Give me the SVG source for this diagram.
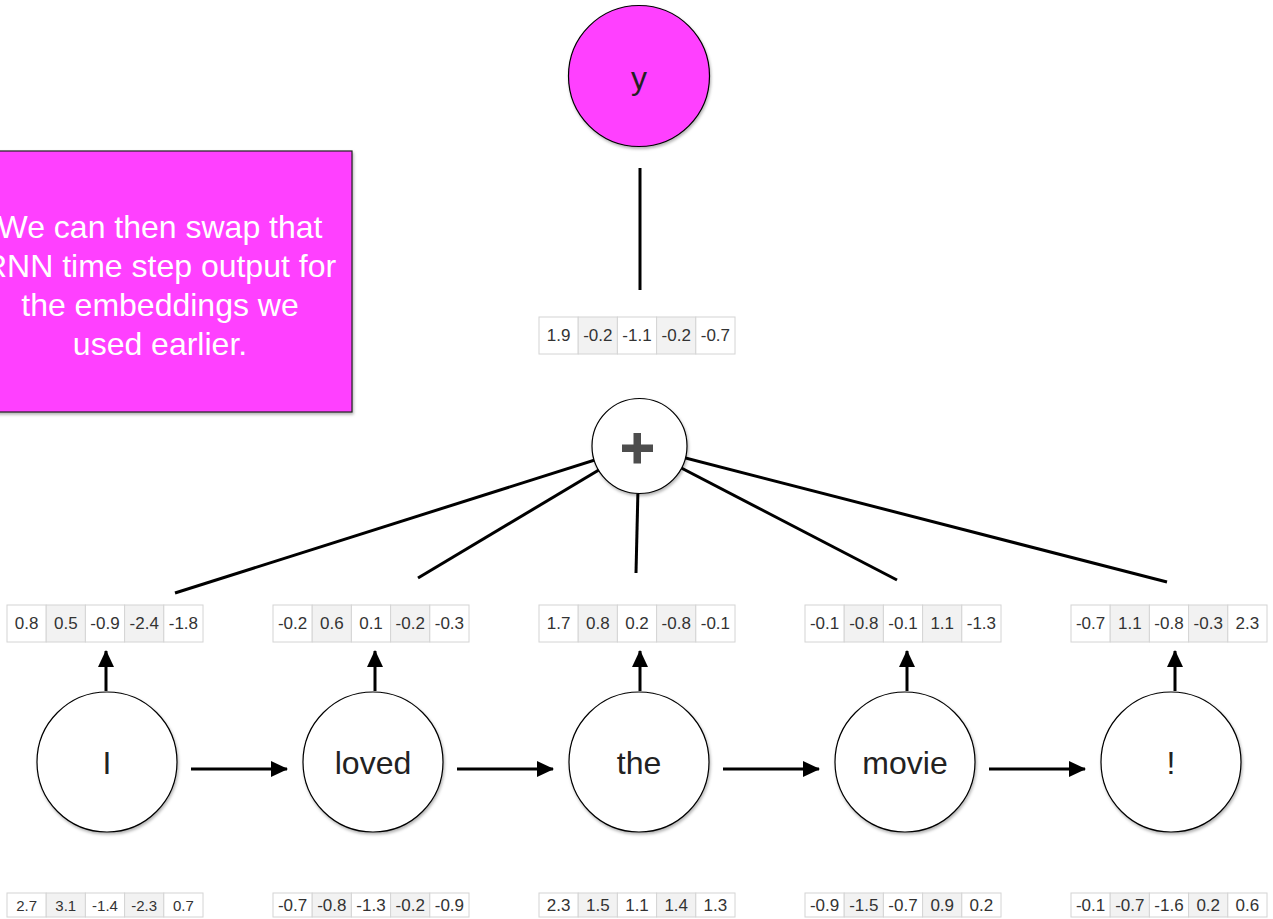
<svg xmlns="http://www.w3.org/2000/svg" width="1273" height="919" viewBox="0 0 1273 919">
<style>
.ln{stroke:#000;stroke-width:3;fill:none}
.ar{stroke:#000;stroke-width:3;fill:none;marker-end:url(#ah)}
.node{fill:#fff;stroke:#000;stroke-width:1.2;filter:url(#sh)}
.lbl{font-family:"Liberation Sans",Arial,sans-serif;font-size:32px;fill:#222;text-anchor:middle;dominant-baseline:central}
.c{fill:#fff;stroke:#d4d4d4;stroke-width:1}
.c2{fill:#f2f2f2;stroke:#d4d4d4;stroke-width:1}
.t{font-family:"Liberation Sans",Arial,sans-serif;font-size:17px;fill:#333;text-anchor:middle;dominant-baseline:central}
.ts{font-family:"Liberation Sans",Arial,sans-serif;font-size:15px;fill:#333;text-anchor:middle;dominant-baseline:central}
.note{font-family:"Liberation Sans",Arial,sans-serif;font-size:32px;fill:#fff;text-anchor:middle}
</style>
<defs>
<filter id="sh" x="-20%" y="-20%" width="140%" height="140%">
<feDropShadow dx="1" dy="2" stdDeviation="1.5" flood-color="#000" flood-opacity="0.3"/>
</filter>
<marker id="ah" markerUnits="userSpaceOnUse" markerWidth="18" markerHeight="18" viewBox="0 0 18 18" refX="16" refY="9" orient="auto">
<path d="M0,1 L17,9 L0,17 Z" fill="#000"/>
</marker>
<g id="row5">
<rect class="c" x="0" y="0" width="39.2" height="37"/>
<rect class="c2" x="39.2" y="0" width="39.2" height="37"/>
<rect class="c" x="78.4" y="0" width="39.2" height="37"/>
<rect class="c2" x="117.6" y="0" width="39.2" height="37"/>
<rect class="c" x="156.8" y="0" width="39.2" height="37"/>
</g>
<g id="row5s">
<rect class="c" x="0" y="0" width="39.2" height="24"/>
<rect class="c2" x="39.2" y="0" width="39.2" height="24"/>
<rect class="c" x="78.4" y="0" width="39.2" height="24"/>
<rect class="c2" x="117.6" y="0" width="39.2" height="24"/>
<rect class="c" x="156.8" y="0" width="39.2" height="24"/>
</g>
</defs>
<rect width="1273" height="919" fill="#fff"/>

<g id="note">
<rect x="-32" y="151" width="384" height="261" fill="#ff40ff" stroke="#222" stroke-width="1.2" filter="url(#sh)"/>
<text class="note" x="160" y="238">We can then swap that</text>
<text class="note" x="160" y="277">RNN time step output for</text>
<text class="note" x="160" y="316">the embeddings we</text>
<text class="note" x="160" y="355">used earlier.</text>
</g>

<g id="connectors">
<line class="ln" x1="640" y1="168" x2="640" y2="290"/>
<line class="ln" x1="639" y1="446" x2="175" y2="593"/>
<line class="ln" x1="639" y1="446" x2="418" y2="578"/>
<line class="ln" x1="639" y1="446" x2="636" y2="573"/>
<line class="ln" x1="639" y1="446" x2="897" y2="580"/>
<line class="ln" x1="639" y1="446" x2="1167" y2="582"/>
<line class="ar" x1="106" y1="691" x2="106" y2="651"/>
<line class="ar" x1="375" y1="691" x2="375" y2="651"/>
<line class="ar" x1="640" y1="691" x2="640" y2="651"/>
<line class="ar" x1="907" y1="691" x2="907" y2="651"/>
<line class="ar" x1="1175" y1="691" x2="1175" y2="651"/>
<line class="ar" x1="191" y1="769" x2="287" y2="769"/>
<line class="ar" x1="457" y1="769" x2="553" y2="769"/>
<line class="ar" x1="723" y1="769" x2="819" y2="769"/>
<line class="ar" x1="989" y1="769" x2="1085" y2="769"/>
</g>

<g id="y">
<circle cx="639" cy="76" r="70.5" fill="#ff40ff" stroke="#000" stroke-width="1.2" filter="url(#sh)"/>
<text class="lbl" x="639" y="78">y</text>
</g>

<g id="plus">
<circle class="node" cx="639.5" cy="446" r="47.5"/>
<rect x="622" y="444.5" width="31" height="7.5" fill="#4d4d4d"/>
<rect x="633.5" y="433" width="7.5" height="30.5" fill="#4d4d4d"/>
</g>

<g id="vec_out">
<use href="#row5" x="539" y="317"/>
<text class="t" x="558.6" y="335.5">1.9</text>
<text class="t" x="597.8" y="335.5">-0.2</text>
<text class="t" x="637" y="335.5">-1.1</text>
<text class="t" x="676.2" y="335.5">-0.2</text>
<text class="t" x="715.4" y="335.5">-0.7</text>
</g>

<g id="h1">
<use href="#row5" x="7" y="605"/>
<text class="t" x="26.6" y="623.5">0.8</text>
<text class="t" x="65.8" y="623.5">0.5</text>
<text class="t" x="105" y="623.5">-0.9</text>
<text class="t" x="144.2" y="623.5">-2.4</text>
<text class="t" x="183.4" y="623.5">-1.8</text>
</g>
<g id="h2">
<use href="#row5" x="273" y="605"/>
<text class="t" x="292.6" y="623.5">-0.2</text>
<text class="t" x="331.8" y="623.5">0.6</text>
<text class="t" x="371" y="623.5">0.1</text>
<text class="t" x="410.2" y="623.5">-0.2</text>
<text class="t" x="449.4" y="623.5">-0.3</text>
</g>
<g id="h3">
<use href="#row5" x="539" y="605"/>
<text class="t" x="558.6" y="623.5">1.7</text>
<text class="t" x="597.8" y="623.5">0.8</text>
<text class="t" x="637" y="623.5">0.2</text>
<text class="t" x="676.2" y="623.5">-0.8</text>
<text class="t" x="715.4" y="623.5">-0.1</text>
</g>
<g id="h4">
<use href="#row5" x="805" y="605"/>
<text class="t" x="824.6" y="623.5">-0.1</text>
<text class="t" x="863.8" y="623.5">-0.8</text>
<text class="t" x="903" y="623.5">-0.1</text>
<text class="t" x="942.2" y="623.5">1.1</text>
<text class="t" x="981.4" y="623.5">-1.3</text>
</g>
<g id="h5">
<use href="#row5" x="1071" y="605"/>
<text class="t" x="1090.6" y="623.5">-0.7</text>
<text class="t" x="1129.8" y="623.5">1.1</text>
<text class="t" x="1169" y="623.5">-0.8</text>
<text class="t" x="1208.2" y="623.5">-0.3</text>
<text class="t" x="1247.4" y="623.5">2.3</text>
</g>

<g id="n_I">
<circle class="node" cx="107" cy="762" r="70"/>
<text class="lbl" x="107" y="763">I</text>
</g>
<g id="n_loved">
<circle class="node" cx="373" cy="762" r="70"/>
<text class="lbl" x="373" y="763">loved</text>
</g>
<g id="n_the">
<circle class="node" cx="639" cy="762" r="70"/>
<text class="lbl" x="639" y="763">the</text>
</g>
<g id="n_movie">
<circle class="node" cx="905" cy="762" r="70"/>
<text class="lbl" x="905" y="763">movie</text>
</g>
<g id="n_excl">
<circle class="node" cx="1171" cy="762" r="70"/>
<text class="lbl" x="1171" y="763">!</text>
</g>

<g id="e1">
<use href="#row5s" x="7" y="893"/>
<text class="ts" x="26.6" y="905">2.7</text>
<text class="ts" x="65.8" y="905">3.1</text>
<text class="ts" x="105" y="905">-1.4</text>
<text class="ts" x="144.2" y="905">-2.3</text>
<text class="ts" x="183.4" y="905">0.7</text>
</g>
<g id="e2">
<use href="#row5s" x="273" y="893"/>
<text class="t" x="292.6" y="905">-0.7</text>
<text class="t" x="331.8" y="905">-0.8</text>
<text class="t" x="371" y="905">-1.3</text>
<text class="t" x="410.2" y="905">-0.2</text>
<text class="t" x="449.4" y="905">-0.9</text>
</g>
<g id="e3">
<use href="#row5s" x="539" y="893"/>
<text class="t" x="558.6" y="905">2.3</text>
<text class="t" x="597.8" y="905">1.5</text>
<text class="t" x="637" y="905">1.1</text>
<text class="t" x="676.2" y="905">1.4</text>
<text class="t" x="715.4" y="905">1.3</text>
</g>
<g id="e4">
<use href="#row5s" x="805" y="893"/>
<text class="t" x="824.6" y="905">-0.9</text>
<text class="t" x="863.8" y="905">-1.5</text>
<text class="t" x="903" y="905">-0.7</text>
<text class="t" x="942.2" y="905">0.9</text>
<text class="t" x="981.4" y="905">0.2</text>
</g>
<g id="e5">
<use href="#row5s" x="1071" y="893"/>
<text class="t" x="1090.6" y="905">-0.1</text>
<text class="t" x="1129.8" y="905">-0.7</text>
<text class="t" x="1169" y="905">-1.6</text>
<text class="t" x="1208.2" y="905">0.2</text>
<text class="t" x="1247.4" y="905">0.6</text>
</g>
</svg>
